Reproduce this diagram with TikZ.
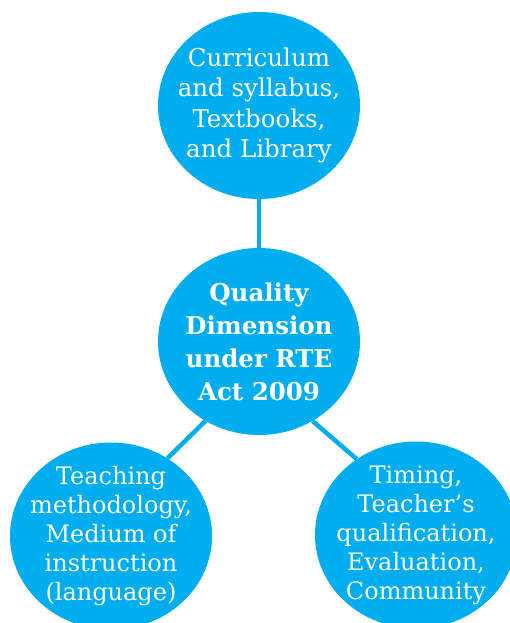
\documentclass[tikz,border=0pt]{standalone}
\usepackage{fontspec}
\setmainfont{DejaVu Serif}
\usetikzlibrary{shapes.geometric}
\definecolor{qblue}{HTML}{00AEEF}
\tikzset{
  bubble/.style={ellipse, fill=qblue, text=white, minimum width=202pt, minimum height=187pt, inner xsep=-25pt, inner ysep=-12pt, align=center, font=\fontsize{24.5}{30.5}\selectfont},
  link/.style={draw=qblue, line width=4.5pt}
}
\begin{document}
\begin{tikzpicture}[x=1pt,y=-1pt]
\useasboundingbox (0,0) rectangle (510,623);
\node[bubble] (top) at (259,105.5) {Curriculum\\and syllabus,\\Textbooks,\\and Library};
\node[bubble, font=\fontsize{24.5}{33}\selectfont\bfseries] (mid) at (259,341.5) {Quality\\Dimension\\under RTE\\Act 2009};
\node[bubble, font=\fontsize{24}{29}\selectfont] (left) at (111,536) {Teaching\\methodology,\\Medium of\\instruction\\(language)};
\node[bubble, font=\fontsize{24}{29}\selectfont] (right) at (416,535) {Timing,\\Teacher’s\\qualification,\\Evaluation,\\Community};
\draw[link] (top) -- (mid);
\draw[link] (mid.236) -- (left.54);
\draw[link] (mid.304) -- (right.128);
\end{tikzpicture}
\end{document}
